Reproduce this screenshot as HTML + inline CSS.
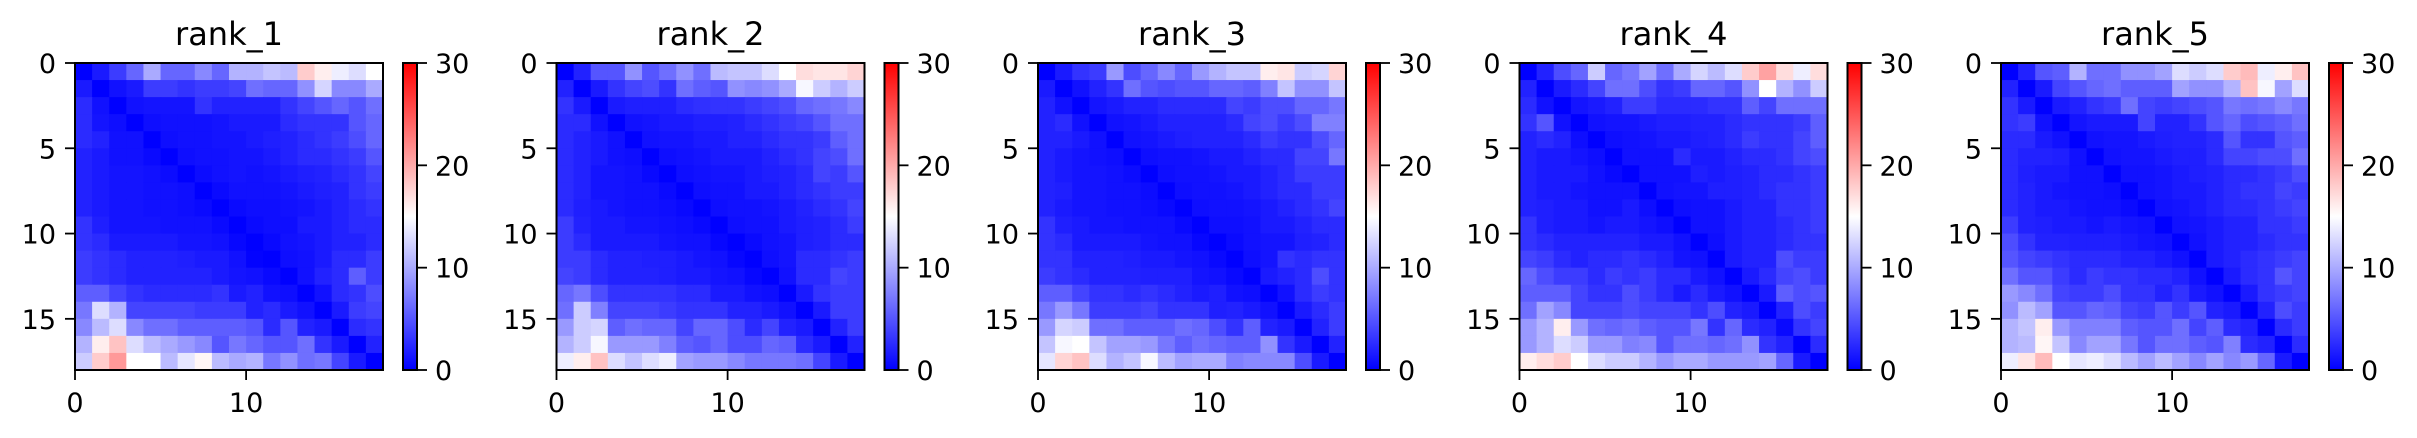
<!DOCTYPE html>
<html><head><meta charset="utf-8"><style>
html,body{margin:0;padding:0;background:#fff;}
svg{display:block;font-family:"DejaVu Sans","Liberation Sans",sans-serif;}
</style></head><body>
<svg id="fig" width="2417" height="438" viewBox="0 0 2417 438" xmlns="http://www.w3.org/2000/svg">
<defs><linearGradient id="bwr" x1="0" y1="1" x2="0" y2="0">
<stop offset="0" stop-color="#0000ff"/><stop offset="0.5" stop-color="#ffffff"/><stop offset="1" stop-color="#ff0000"/>
</linearGradient></defs>
</svg>
<script>
const panelTitles = ["rank_1","rank_2","rank_3","rank_4","rank_5"];
const yTicks = [0,5,10,15];
const xTicks = [0,10];
const cbarTicks = [0,10,20,30];
const vmin = 0, vmax = 30;
const rank1 = [
[0,1.5,3.5,6,10,6,6,8,6,10.5,10.5,11.5,11,18,16,14,13,15],
[1.5,0,1,1.5,3.5,3.5,3,3.5,3.5,4,6.5,6,6,8.5,12.5,8,8,10],
[2.5,1,0,1,1.2,1.2,1.2,3,2,2,2,2,3,4,5,6,5,6.5],
[2.5,1.2,0.8,0,0.8,1,1,1,1.2,1.5,1.5,1.5,2.5,3,3,3,5,6],
[2.5,2,1,1,0,0.8,1,1,1.2,1.2,1.5,1.8,2,2.5,3,3.5,4.5,6],
[2,1.5,1,1,0.6,0,0.8,1,1,1.2,1.2,1.5,2,2.5,2.5,3,3.5,5],
[2,1.5,1.2,1.2,1,0.7,0,0.7,1,1.2,1,1.2,1.5,1.8,2,2.5,3,4],
[2,1.5,1.2,1.2,1,1,0.8,0,0.6,1,1,1,1.2,1.5,1.8,2,3,3.5],
[2,1.5,1.2,1.2,1,1,0.8,0.6,0,0.6,0.8,0.8,1,1.2,1.5,2,2.5,3],
[3,1.8,1.2,1.2,1.2,1,1,1,0.6,0,0.6,0.8,0.8,1.5,1.5,2,2.5,2.5],
[3,2.5,1.5,1.5,1.5,1.5,1.2,1.2,1,0.4,0,0.5,1,1.2,1.5,2,2,2.5],
[3.5,3,2.5,2,2,2,1.8,1.5,1.5,1,0.2,0,0.8,1,1.5,2.5,2.5,3.5],
[3.5,3,2.5,2,2,2,2,2,1.5,1.2,1,0.5,0,1,2,2.5,5.5,3.5],
[5.5,5.5,4,3,2.5,2.5,2.5,2.5,3,1.5,2,1,0.8,0,1,2.5,3,4.5],
[7,13,10.5,4,4,4,4,3.5,3.5,3.5,2,2.5,1.5,1,0,1.5,3.5,4],
[8,11,13,8,6.5,6.5,5.5,5.5,5.5,5.5,5,2.5,5,2,1.5,0,2.5,3],
[10.5,16,18.5,13,11,10,9,8,5,7,6,5,5,6.5,3,1.5,0,2],
[12,18,21,15,15,11,13.5,15.5,11,10,10.5,7,8.5,6.5,7,4,1.5,0]];
const rank2 = [
[0,2,5,5,8.5,5,6.5,8.5,6.5,11,11.5,11.5,13,15,17,16.5,16.5,17.5],
[2,0,1.5,3,4,4.5,3,6.5,5.5,5,8.5,8,8.5,10,14.5,12,10.5,12],
[3,1.5,0,1.5,1.8,1.8,1.8,2.5,2.8,3,3,3.5,4,4.5,6,6.5,7,8],
[2.5,2.5,1,0,1,1.2,1.5,1.5,1.8,1.8,2,2.5,3,3.5,4,5,6.5,6.5],
[2.5,2,1.5,1,0,1,1.2,1.2,1.5,1.5,2,2,2.5,3,3,3.5,5.5,6.5],
[2.5,2,1.5,1,0.8,0,0.8,1,1.2,1.5,1.5,1.5,2,2.5,3,4,4.5,6.5],
[2.5,2,1.2,1.2,1,0.5,0,0.8,1,1.2,1.2,1.5,1.8,2,2.5,4,3.5,5],
[2.5,2,1.2,1.2,1,1,0.6,0,0.8,1,1,1.5,1.5,2,2.5,3,3.5,3.5],
[2.5,1.8,1.5,1.2,1,1,0.8,0.5,0,0.8,1,1,1.2,1.5,2,2.5,3,4],
[3.5,2,1.5,1.5,1.2,1.2,1,0.8,0.5,0,0.8,1,1,1.5,1.8,2,2.5,3.5],
[3.5,2.5,1.5,1.5,1.5,1.5,1.2,1,1,0.4,0,0.6,1,1.2,1.8,2,2.5,2.5],
[3.5,3.5,2.5,2,2,1.8,1.8,1.5,1.2,1,0.4,0,0.8,1.2,2.5,2.5,3,3.5],
[4,3.5,2.5,2,2,2,1.8,1.5,1.5,1.2,1,0.4,0,1,2.5,2.5,4,3.5],
[6,7,4.5,3,3,3,3,2.5,2.5,1.5,1.5,1,0.8,0,1.5,3,3.5,3.5],
[6.5,12,7.5,4,4,4,3.5,3,3,3,2,2,1.5,1,0,1.5,3.5,3.5],
[9,12,12.5,5.5,6.5,6,6,4,6,6,4.5,2.5,4,2,1.5,0,2,3.5],
[10.5,12,14.5,9,9,9,7.5,5.5,5,6,4.5,4.5,6,5.5,2.5,1.5,0,2],
[14,16,18.5,13,11.5,13,14,9.5,9,9,8,7,7,7,6.5,4,1.5,0]];
const rank3 = [
[0,1.5,3,3.5,9,4.5,6,8,6,9,10.5,11.5,11.5,16,16.5,12,12.5,17.5],
[1.5,0,1,2,3,6.5,5,4.5,5,5,6,6,5.5,7.5,11.5,8.5,8.5,11.5],
[2,1,0,1.2,1.5,2,2,2.5,2.5,2.5,2.5,4,3.5,4.5,4.5,6,6,7],
[2,2.5,1,0,1,1.2,1.5,2,2,2,2,2.5,4,4.5,3.5,4.5,7.5,7.5],
[2,2,1.5,1,0,1,1.2,1.5,1.8,2,2,2,2.5,3.5,3,3,4.5,6],
[2,1.5,1.2,1,0.8,0,0.8,1,1,1.2,1.5,1.5,2,2.5,2.5,4,4,7],
[2,1.5,1.2,1.2,1,0.7,0,0.8,1,1,1.2,1.5,1.5,2,2.5,3.5,3.5,3.5],
[2,1.8,1.2,1.2,1,1,0.7,0,0.8,1,1,1.2,1.5,2,2.5,2.5,3.5,3.5],
[2,1.5,1.2,1.2,1,1,0.8,0.5,0,0.8,1,1,1.2,1.5,2,2.5,3,4],
[3,1.8,1.5,1.2,1.2,1,1,1,0.5,0,0.8,0.8,1,1.5,1.5,2,2.5,2.5],
[3,2.5,1.5,1.5,1.5,1.5,1.2,1,1,0.4,0,0.6,1,1.2,1.2,1.8,2,2.5],
[3,3,2,2,2,1.8,1.5,1.5,1.2,1,0.5,0,0.8,1.2,3,2.5,3,3],
[3.5,3,2.5,2,2,2,1.8,1.8,1.8,1.2,1,0.5,0,1.5,2,2.5,4.5,3],
[5.5,5.5,4,3,3,2.5,3,2.5,2,1.5,1.8,1,0.8,0,1,2.5,3.5,3],
[7,9,7,3.5,3.5,3.5,4,3,3,3,1.8,2,1.5,1,0,1.5,2.5,3.5],
[9,12.5,12,6.5,6.5,5.5,5.5,5.5,6.5,6,4.5,3,5.5,2,1.5,0,2,3.5],
[11.5,14.5,15,11.5,9.5,9.5,9,7,5.5,6.5,6,5.5,5.5,8.5,3,1.5,0,2],
[13.5,17.5,18.5,13,10.5,11.5,14.5,11,9.5,10,10,7.5,8,8,8,4.5,1.5,0]];
const rank4 = [
[0,2,4.5,6,12,6,7,9.5,6.5,10,12.5,11,13,18,20.5,17,14,17],
[2,0,1.5,2.5,4,6.5,6.5,4.5,3,3.5,6,6,5,8.5,15,10.5,8.5,12],
[2.5,1,0,1.2,1.5,2,3.5,3.5,2.5,2.5,2.5,3,3,5.5,4,6.5,6.5,6.5],
[3,5,1,0,1,1.2,1.2,1.5,1.8,1.8,2,2,2.5,3,3,3,3.5,5.5],
[2,2.5,2,0.8,0,0.8,1,1.2,1.5,1.5,1.8,2,2.5,3.5,3,3,4,5.5],
[2,1.5,1.5,1.2,0.8,0,1,1,1,2.5,1.5,1.5,2,2.5,2.5,3,4,4.5],
[2,1.5,1.5,1.5,1,0.5,0,1,1,1,1.8,1.5,1.8,2,2.5,2.5,3,3.5],
[2,1.5,1.5,1.2,1,1,1,0,1,1.2,1.2,1.8,1.8,2,2.5,3,3,3.5],
[2,1.8,1.5,1.5,1,1,1.5,0.8,0,0.8,1,1,1.5,2,2,3,3,3.5],
[3,1.8,1.5,1.5,1.2,1.5,1.5,1.2,0.8,0,1,1,1.5,2,2,2.5,3,3.5],
[3,2.5,2,2,2,2,2,1.5,1.5,1,0,0.8,1.5,2,2,2.5,3,3],
[4,3.5,2.5,2,2.5,2.5,3,2.5,2,1.2,1,0,1.5,2,2,4.5,3.5,3.5],
[6,4.5,3.5,3.5,2.5,3.5,3,3.5,2.5,2.5,1.5,1,0,1.5,2.5,4,4.5,3.5],
[5.5,5.5,5.5,4,3,3,4.5,3.5,2.5,1.5,2.5,1.5,1,0,1.5,5.5,4.5,5],
[6.5,9.5,8,4,4,4,4.5,4,4,4,3,4.5,2,1.5,0,2,4.5,3.5],
[9,10.5,16,9,6.5,6,6.5,5.5,5,5,7,3,6,2.5,2,0.5,3,4],
[9,10.5,13,12,9,9,7.5,8,5,6.5,6.5,6,6.5,8.5,3,2,0,2.5],
[16,17,18,15,13,12,12,10.5,9,10,10,9,9,9,9.5,6,1.5,0]];
const rank5 = [
[0,2,5,5.5,10.5,6.5,6.5,8.5,8.5,9.5,13,12,13,18,19,14,16,18.5],
[2,0,1.5,4,5,6,6.5,5.5,5.5,5.5,9.5,8.5,8.5,10.5,18.5,14.5,9.5,13],
[3,1.5,0,1.5,2,3,3.5,6.5,4,3.5,4,4.5,5,7,6.5,7,8,7],
[3,3.5,1,0,1.2,1.5,1.5,1.5,4,2,2,3,5,6,4.5,5,5.5,6.5],
[2.5,2.5,1.5,1,0,1,1.2,1.2,1.5,1.8,2,2,2.5,5,3,3,5,5.5],
[2.5,2,2,1.8,1,0,1,1.2,1.2,1.5,1.8,1.8,2.5,4,4,4.5,4.5,6.5],
[2.5,1.8,1.5,1.5,1,1,0,1,1,1.2,1.5,1.8,2,2.5,2.5,3,3.5,4.5],
[2.5,2,1.5,1.2,1,1,0.8,0,1,1.2,1.5,1.5,2,2.5,3,3,4,3.5],
[2.5,2,1.5,1.5,1.2,1,1,0.6,0,1,1.2,1.5,2,2.5,2.5,3,3.5,4],
[3.5,2,1.8,1.5,1.5,1.2,1.5,1.2,1,0,1,1.2,1.5,2,2,3,3,3.5],
[4.5,3,2,2,1.8,1.8,1.8,1.5,1.2,1,0,1,1.5,2,2,2.5,3,3],
[5,4,3.5,3,2.5,2.5,2.5,2,2,1.5,1,0,1.5,2,2.5,3,3.5,4],
[6.5,5,5,3.5,2.5,3.5,3,3,2.5,2.5,2,1,0,1.5,2.5,3,5,4],
[9,8,6.5,4,3.5,3.5,4.5,3,3,2,3,1.5,1,0,1.5,3,3.5,4],
[8.5,11,9.5,5,5,6,5.5,4,3.5,5,3.5,5,2,1.5,0,2,4.5,3.5],
[10.5,11.5,16,9,7.5,7.5,7.5,5.5,5,5,6.5,4,5.5,2.5,2,0,2.5,3.5],
[10.5,11,15.5,11.5,8,9.5,9.5,7,5,6.5,6.5,5.5,5,7.5,2.5,2,0,2.5],
[14,16.5,19,15,13.5,14,13,11,9.5,11,9.5,8,9.5,8,9,6,1.5,0]];
const matrices = [rank1, rank2, rank3, rank4, rank5];

const NS = "http://www.w3.org/2000/svg";
const svg = document.getElementById("fig");
function mk(tag, attrs, parent){ const e=document.createElementNS(NS,tag); for(const k in attrs) e.setAttribute(k,attrs[k]); (parent||svg).appendChild(e); return e; }
function color(v){
  const t = Math.max(0, Math.min(1,(v-vmin)/(vmax-vmin)));
  let r,g,b;
  if(t<=0.5){ const s=t/0.5; r=g=Math.round(255*s); b=255; }
  else { const s=(1-t)/0.5; r=255; g=b=Math.round(255*s); }
  return `rgb(${r},${g},${b})`;
}
const plotTop=63, plotH=307, plotW=308, firstLeft=75, spacing=481.5;
const cbOff=328, cbW=14, tickLen=10;

matrices.forEach((M, p) => {
  const left = firstLeft + p*spacing;
  const n = M.length;
  const cw = plotW/n, ch = plotH/n;
  const xs = v => left + v*cw;
  const ys = v => plotTop + v*ch;
  const cs = v => plotTop + plotH - (v-vmin)/(vmax-vmin)*plotH;
  const g = mk("g",{});
  
  
  const title = mk("text",{x:left+plotW/2,y:45,"font-size":32,"text-anchor":"middle",fill:"#000"},g);
  title.textContent = panelTitles[p];
  
  
  M.forEach((row,i)=>row.forEach((v,j)=>{
    const r = mk("rect",{x:xs(j),y:ys(i),width:cw+0.6,height:ch+0.6,fill:color(v)},g);
    
    
  }));
  const fr = mk("rect",{x:left,y:plotTop,width:plotW,height:plotH,fill:"none",stroke:"#000","stroke-width":2},g);
  
  
  yTicks.forEach(t=>{
    mk("line",{x1:left-tickLen,x2:left,y1:ys(t),y2:ys(t),stroke:"#000","stroke-width":1.8},g);
    const tx = mk("text",{x:left-tickLen-9,y:ys(t)+10,"font-size":27,"text-anchor":"end",fill:"#000"},g);
    tx.textContent = t;
    
    
  });
  xTicks.forEach(t=>{
    mk("line",{x1:xs(t),x2:xs(t),y1:plotTop+plotH,y2:plotTop+plotH+tickLen,stroke:"#000","stroke-width":1.8},g);
    const tx = mk("text",{x:xs(t),y:412,"font-size":27,"text-anchor":"middle",fill:"#000"},g);
    tx.textContent = t;
    
    
  });
  const cbx = left + cbOff;
  const cb = mk("rect",{x:cbx,y:plotTop,width:cbW,height:plotH,fill:"url(#bwr)",stroke:"#000","stroke-width":2},g);
  
  
  cbarTicks.forEach(t=>{
    mk("line",{x1:cbx+cbW,x2:cbx+cbW+tickLen,y1:cs(t),y2:cs(t),stroke:"#000","stroke-width":1.8},g);
    const tx = mk("text",{x:cbx+cbW+tickLen+8,y:cs(t)+10,"font-size":27,"text-anchor":"start",fill:"#000"},g);
    tx.textContent = t;
    
    
  });
});
</script>
</body></html>
